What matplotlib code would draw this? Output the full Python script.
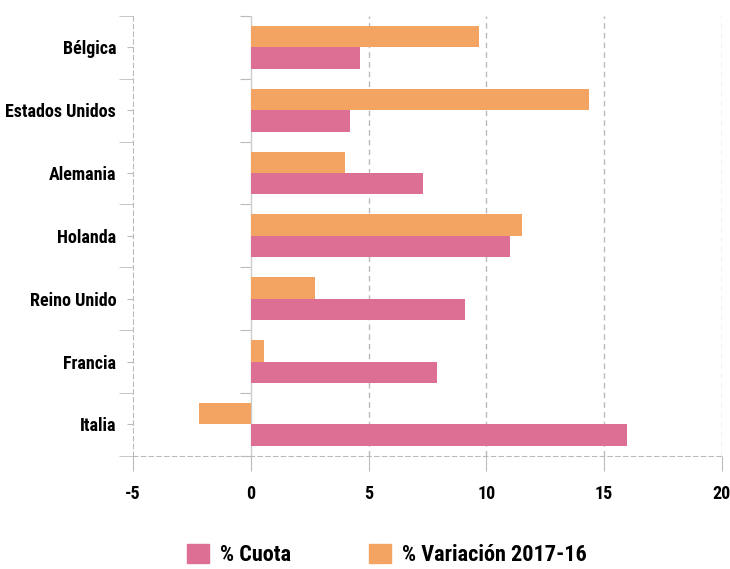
import matplotlib.pyplot as plt
import numpy as np
from matplotlib.patches import Patch

paises = ["Italia", "Francia", "Reino Unido", "Holanda", "Alemania", "Estados Unidos", "Bélgica"]
cuota = [15.95, 7.92, 9.11, 11.0, 7.31, 4.23, 4.64]
variacion = [-2.19, 0.57, 2.75, 11.52, 4.01, 14.37, 9.70]

rosa = "#dc6f93"
naranja = "#f4a462"
gris = "#bbbbbb"

plt.rcParams['font.family'] = ['Liberation Sans Narrow', 'Roboto Condensed', 'Open Sans Condensed',
                               'DejaVu Sans Condensed', 'Roboto', 'DejaVu Sans']
plt.rcParams['font.stretch'] = 'condensed'
plt.rcParams['font.weight'] = 'bold'
plt.rcParams['axes.unicode_minus'] = False

fig = plt.figure(figsize=(7.3, 5.69), dpi=100)
ax = fig.add_axes([0.182, 0.199, 0.807, 0.773])

y = np.arange(len(paises))
h = 0.34
ax.barh(y - h / 2, cuota, height=h, color=rosa, zorder=3)
ax.barh(y + h / 2, variacion, height=h, color=naranja, zorder=3)

ax.set_xlim(-5, 20)
ax.set_ylim(-0.5, len(paises) - 0.5)
ax.set_xticks([-5, 0, 5, 10, 15, 20])
ax.set_yticks(y)
ax.set_yticklabels(paises)
ax.set_yticks(np.arange(-0.5, len(paises), 1), minor=True)

# vertical grid
for v in [5, 10, 15, 20]:
    ax.axvline(v, color=gris, lw=1, ls=(0, (4, 3)), zorder=1)
ax.axvline(0, color="#cccccc", lw=1, zorder=1)

for s in ["top", "right"]:
    ax.spines[s].set_visible(False)
ax.spines["left"].set_color(gris)
ax.spines["left"].set_linestyle((0, (4, 3)))
ax.spines["bottom"].set_color(gris)
ax.spines["bottom"].set_linestyle((0, (4, 3)))

ax.tick_params(axis="x", length=11, color=gris, pad=10, labelsize=13)
ax.tick_params(axis="y", which="major", length=4, color=gris, pad=8, labelsize=13)
ax.tick_params(axis="y", which="minor", length=10, color=gris)

# ticks along the zero line
sec = ax.secondary_yaxis(0.2)
sec.set_yticks(np.arange(-0.5, len(paises), 1))
sec.set_yticklabels([])
sec.tick_params(length=8, color=gris)
sec.spines["left"].set_visible(False)

fig.legend(handles=[Patch(color=rosa, label="% Cuota"), Patch(color=naranja, label="% Variación 2017-16")],
           loc="lower center", bbox_to_anchor=(0.53, -0.03), ncol=2, frameon=False,
           fontsize=16, handlelength=1.0, handleheight=1.0, columnspacing=3.5, handletextpad=0.5)

fig.savefig("out.png", dpi=100)
